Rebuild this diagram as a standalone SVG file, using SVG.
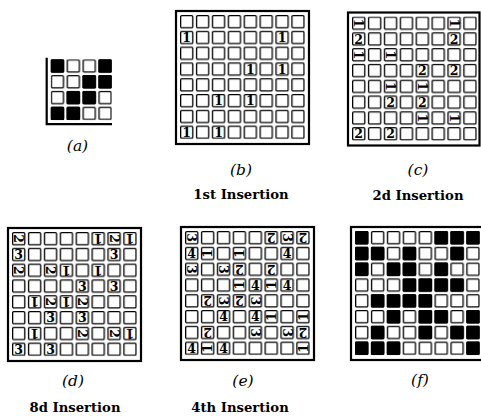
<svg xmlns="http://www.w3.org/2000/svg" xmlns:xlink="http://www.w3.org/1999/xlink" width="481" height="416" viewBox="0 0 481 416">
<style>
.brd{fill:none;stroke:#000;stroke-width:2.2}
.g{font-family:"DejaVu Serif","Liberation Serif",serif;font-weight:bold;font-size:12.5px;text-anchor:middle;fill:#000}
.cap{font-family:"DejaVu Serif","Liberation Serif",serif;font-style:italic;font-size:15.5px;text-anchor:middle;fill:#000}
.ins{font-family:"DejaVu Serif","Liberation Serif",serif;font-weight:bold;font-size:13.2px;text-anchor:middle;fill:#000}
</style>
<defs>
<pattern id="cells" patternUnits="userSpaceOnUse" width="15.9" height="15.8">
<rect x="0.65" y="0.65" width="12.1" height="12.1" rx="1.2" fill="#fff" stroke="#000" stroke-width="1.3"/>
</pattern>
<rect id="blk" width="13.4" height="13.4" rx="1.2" fill="#000"/>
</defs>
<rect width="481" height="416" fill="#fff"/>

<g id="panel-a" transform="translate(50.7,59.3)">
<rect width="61.2" height="60.9" fill="url(#cells)"/>
<use href="#blk" x="0" y="0"/><use href="#blk" x="47.7" y="0"/>
<use href="#blk" x="31.8" y="15.8"/><use href="#blk" x="47.7" y="15.8"/>
<use href="#blk" x="15.9" y="31.6"/><use href="#blk" x="31.8" y="31.6"/>
<use href="#blk" x="0" y="47.4"/><use href="#blk" x="15.9" y="47.4"/>
<path class="brd" d="M-4,-1.5V64.8H61.3"/>
</g>
<text class="cap" x="77.5" y="151">(a)</text>

<g id="panel-b" transform="translate(180,15)">
<rect width="125" height="124.2" fill="url(#cells)"/>
<rect class="brd" x="-4" y="-4" width="133" height="133"/>
<g class="g">
<text transform="translate(6.7,22.5)" y="4.5">1</text>
<text transform="translate(102.1,22.5)" y="4.5">1</text>
<text transform="translate(70.3,54.1)" y="4.5">1</text>
<text transform="translate(102.1,54.1)" y="4.5">1</text>
<text transform="translate(38.5,85.7)" y="4.5">1</text>
<text transform="translate(70.3,85.7)" y="4.5">1</text>
<text transform="translate(6.7,117.3)" y="4.5">1</text>
<text transform="translate(38.5,117.3)" y="4.5">1</text>
</g>
</g>
<text class="cap" x="241" y="175">(b)</text>
<text class="ins" x="241" y="199">1st Insertion</text>

<g id="panel-c" transform="translate(352,16.5)">
<rect width="125" height="124.2" fill="url(#cells)"/>
<rect class="brd" x="-4" y="-4" width="131.5" height="133"/>
<g class="g">
<text transform="translate(102.1,6.7) rotate(90)" y="4.5">1</text>
<text transform="translate(102.1,101.5) rotate(90)" y="4.5">1</text>
<text transform="translate(70.3,69.9) rotate(90)" y="4.5">1</text>
<text transform="translate(70.3,101.5) rotate(90)" y="4.5">1</text>
<text transform="translate(38.5,38.3) rotate(90)" y="4.5">1</text>
<text transform="translate(38.5,69.9) rotate(90)" y="4.5">1</text>
<text transform="translate(6.7,6.7) rotate(90)" y="4.5">1</text>
<text transform="translate(6.7,38.3) rotate(90)" y="4.5">1</text>
<text transform="translate(6.7,22.5)" y="4.5">2</text>
<text transform="translate(102.1,22.5)" y="4.5">2</text>
<text transform="translate(70.3,54.1)" y="4.5">2</text>
<text transform="translate(102.1,54.1)" y="4.5">2</text>
<text transform="translate(38.5,85.7)" y="4.5">2</text>
<text transform="translate(70.3,85.7)" y="4.5">2</text>
<text transform="translate(6.7,117.3)" y="4.5">2</text>
<text transform="translate(38.5,117.3)" y="4.5">2</text>
</g>
</g>
<text class="cap" x="418" y="175">(c)</text>
<text class="ins" x="418" y="200">2d Insertion</text>

<g id="panel-d" transform="translate(12,232)">
<rect width="125" height="124.2" fill="url(#cells)"/>
<rect class="brd" x="-4" y="-4" width="133" height="133"/>
<g class="g">
<text transform="translate(118,101.5) rotate(180)" y="4.5">1</text>
<text transform="translate(22.6,101.5) rotate(180)" y="4.5">1</text>
<text transform="translate(54.4,69.9) rotate(180)" y="4.5">1</text>
<text transform="translate(22.6,69.9) rotate(180)" y="4.5">1</text>
<text transform="translate(86.2,38.3) rotate(180)" y="4.5">1</text>
<text transform="translate(54.4,38.3) rotate(180)" y="4.5">1</text>
<text transform="translate(118,6.7) rotate(180)" y="4.5">1</text>
<text transform="translate(86.2,6.7) rotate(180)" y="4.5">1</text>
<text transform="translate(102.1,6.7) rotate(90)" y="4.5">2</text>
<text transform="translate(102.1,101.5) rotate(90)" y="4.5">2</text>
<text transform="translate(70.3,69.9) rotate(90)" y="4.5">2</text>
<text transform="translate(70.3,101.5) rotate(90)" y="4.5">2</text>
<text transform="translate(38.5,38.3) rotate(90)" y="4.5">2</text>
<text transform="translate(38.5,69.9) rotate(90)" y="4.5">2</text>
<text transform="translate(6.7,6.7) rotate(90)" y="4.5">2</text>
<text transform="translate(6.7,38.3) rotate(90)" y="4.5">2</text>
<text transform="translate(6.7,22.5)" y="4.5">3</text>
<text transform="translate(102.1,22.5)" y="4.5">3</text>
<text transform="translate(70.3,54.1)" y="4.5">3</text>
<text transform="translate(102.1,54.1)" y="4.5">3</text>
<text transform="translate(38.5,85.7)" y="4.5">3</text>
<text transform="translate(70.3,85.7)" y="4.5">3</text>
<text transform="translate(6.7,117.3)" y="4.5">3</text>
<text transform="translate(38.5,117.3)" y="4.5">3</text>
</g>
</g>
<text class="cap" x="73" y="386">(d)</text>
<text class="ins" x="75" y="412">8d Insertion</text>

<g id="panel-e" transform="translate(185,231)">
<rect width="125" height="124.2" fill="url(#cells)"/>
<rect class="brd" x="-4" y="-4" width="133" height="133"/>
<g class="g">
<text transform="translate(22.6,117.3) rotate(270)" y="4.5">1</text>
<text transform="translate(22.6,22.5) rotate(270)" y="4.5">1</text>
<text transform="translate(54.4,54.1) rotate(270)" y="4.5">1</text>
<text transform="translate(54.4,22.5) rotate(270)" y="4.5">1</text>
<text transform="translate(86.2,85.7) rotate(270)" y="4.5">1</text>
<text transform="translate(86.2,54.1) rotate(270)" y="4.5">1</text>
<text transform="translate(118,117.3) rotate(270)" y="4.5">1</text>
<text transform="translate(118,85.7) rotate(270)" y="4.5">1</text>
<text transform="translate(118,101.5) rotate(180)" y="4.5">2</text>
<text transform="translate(22.6,101.5) rotate(180)" y="4.5">2</text>
<text transform="translate(54.4,69.9) rotate(180)" y="4.5">2</text>
<text transform="translate(22.6,69.9) rotate(180)" y="4.5">2</text>
<text transform="translate(86.2,38.3) rotate(180)" y="4.5">2</text>
<text transform="translate(54.4,38.3) rotate(180)" y="4.5">2</text>
<text transform="translate(118,6.7) rotate(180)" y="4.5">2</text>
<text transform="translate(86.2,6.7) rotate(180)" y="4.5">2</text>
<text transform="translate(102.1,6.7) rotate(90)" y="4.5">3</text>
<text transform="translate(102.1,101.5) rotate(90)" y="4.5">3</text>
<text transform="translate(70.3,69.9) rotate(90)" y="4.5">3</text>
<text transform="translate(70.3,101.5) rotate(90)" y="4.5">3</text>
<text transform="translate(38.5,38.3) rotate(90)" y="4.5">3</text>
<text transform="translate(38.5,69.9) rotate(90)" y="4.5">3</text>
<text transform="translate(6.7,6.7) rotate(90)" y="4.5">3</text>
<text transform="translate(6.7,38.3) rotate(90)" y="4.5">3</text>
<text transform="translate(6.7,22.5)" y="4.5">4</text>
<text transform="translate(102.1,22.5)" y="4.5">4</text>
<text transform="translate(70.3,54.1)" y="4.5">4</text>
<text transform="translate(102.1,54.1)" y="4.5">4</text>
<text transform="translate(38.5,85.7)" y="4.5">4</text>
<text transform="translate(70.3,85.7)" y="4.5">4</text>
<text transform="translate(6.7,117.3)" y="4.5">4</text>
<text transform="translate(38.5,117.3)" y="4.5">4</text>
</g>
</g>
<text class="cap" x="243" y="386">(e)</text>
<text class="ins" x="240" y="412">4th Insertion</text>

<g id="panel-f" transform="translate(355,231)">
<rect width="125" height="124.2" fill="url(#cells)"/>
<rect class="brd" x="-4" y="-4" width="133" height="133"/>
<use href="#blk" x="0" y="0"/><use href="#blk" x="79.5" y="0"/><use href="#blk" x="95.4" y="0"/><use href="#blk" x="111.3" y="0"/>
<use href="#blk" x="0" y="15.8"/><use href="#blk" x="15.9" y="15.8"/><use href="#blk" x="47.7" y="15.8"/><use href="#blk" x="95.4" y="15.8"/>
<use href="#blk" x="0" y="31.6"/><use href="#blk" x="31.8" y="31.6"/><use href="#blk" x="47.7" y="31.6"/><use href="#blk" x="79.5" y="31.6"/>
<use href="#blk" x="47.7" y="47.4"/><use href="#blk" x="63.6" y="47.4"/><use href="#blk" x="79.5" y="47.4"/><use href="#blk" x="95.4" y="47.4"/>
<use href="#blk" x="15.9" y="63.2"/><use href="#blk" x="31.8" y="63.2"/><use href="#blk" x="47.7" y="63.2"/><use href="#blk" x="63.6" y="63.2"/>
<use href="#blk" x="31.8" y="79"/><use href="#blk" x="63.6" y="79"/><use href="#blk" x="79.5" y="79"/><use href="#blk" x="111.3" y="79"/>
<use href="#blk" x="15.9" y="94.8"/><use href="#blk" x="63.6" y="94.8"/><use href="#blk" x="95.4" y="94.8"/><use href="#blk" x="111.3" y="94.8"/>
<use href="#blk" x="0" y="110.6"/><use href="#blk" x="15.9" y="110.6"/><use href="#blk" x="31.8" y="110.6"/><use href="#blk" x="111.3" y="110.6"/>
</g>
<text class="cap" x="420" y="385">(f)</text>
</svg>
